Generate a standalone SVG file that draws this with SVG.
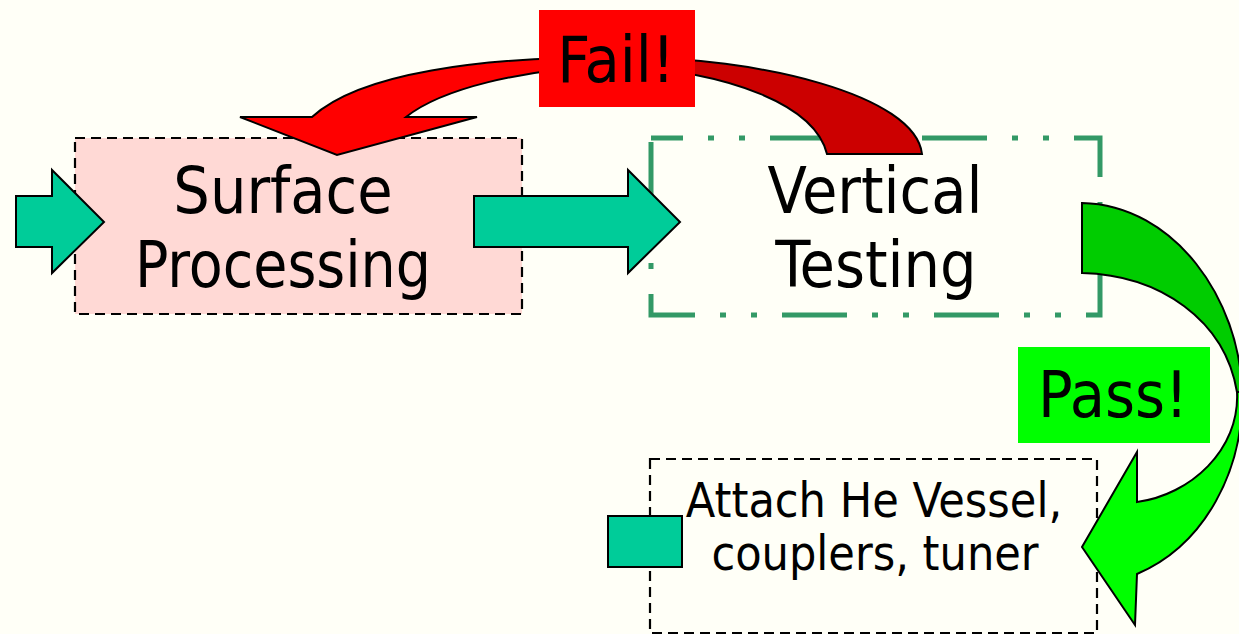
<svg xmlns="http://www.w3.org/2000/svg" width="1239" height="634" viewBox="0 0 1239 634">
  <defs>
    <style>
      .label { font-family: "DejaVu Sans Condensed", "DejaVu Sans", sans-serif; fill: #000; text-anchor: middle; }
      .big { font-size: 64px; }
      .small { font-size: 48px; }
      .dash-box { stroke: #000; stroke-width: 2.2; stroke-dasharray: 10 6; }
      .block { fill: #00CC99; stroke: #000; stroke-width: 2; stroke-linejoin: miter; }
      .curve { stroke: #000; stroke-width: 2; stroke-linejoin: miter; }
    </style>
  </defs>

  <!-- page background -->
  <rect x="0" y="0" width="1239" height="634" fill="#FFFFF7"/>

  <!-- process steps -->
  <g id="node-surface">
    <rect class="dash-box" x="75" y="138" width="447" height="176" fill="#FFD9D5"/>
    <text class="label big" x="283" y="213">Surface</text>
    <text class="label big" x="283" y="287" textLength="296" lengthAdjust="spacingAndGlyphs">Processing</text>
  </g>

  <g id="node-vertical">
    <path d="M651,138 H1100 V315 H651 Z" fill="none" stroke="#339966" stroke-width="5"
          stroke-dasharray="65 25 6 25 6 25" stroke-dashoffset="33" stroke-linecap="butt"/>
    <text class="label big" x="875" y="213">Vertical</text>
    <text class="label big" x="876" y="287">Testing</text>
  </g>

  <g id="node-attach">
    <rect class="dash-box" x="650" y="459" width="447" height="174" fill="none"/>
    <text class="label small" x="874" y="517">Attach He Vessel,</text>
    <text class="label small" x="875" y="570">couplers, tuner</text>
  </g>

  <!-- flow arrows -->
  <g id="connectors">
    <!-- entry arrow -->
    <path class="block" d="M16,196 H52 V170 L104,222 L52,273 V247 H16 Z"/>
    <!-- surface processing to vertical testing -->
    <path class="block" d="M474,196 H628 V170 L680,222 L628,273 V247 H474 Z"/>
    <!-- onward to assembly -->
    <rect class="block" x="608" y="516" width="74" height="51"/>

    <!-- fail loop: rear part (darker) -->
    <path class="curve" fill="#CC0000"
          d="M620,57 C760,57 915,95 922,154 L827,154 C815,105 730,72 620,66 Z"/>
    <!-- fail loop: front part with head -->
    <path class="curve" fill="#FF0000"
          d="M620,57 C480,57 360,73 312,117 L240,117 L337,155 L477,117 L406,117 C440,90 520,68 620,66 Z"/>

    <!-- pass arrow: rear part (darker) -->
    <path class="curve" fill="#00CC00"
          d="M1082,203 C1175,205 1240,300 1242,392 L1237,392 C1225,320 1160,275 1082,273 Z"/>
    <!-- pass arrow: front part with head -->
    <path class="curve" fill="#00FF00"
          d="M1242,392 C1244,470 1205,545 1137,574 L1135,625 L1082,547 L1137,452 L1137,502 C1190,495 1240,450 1237,392 Z"/>
  </g>

  <!-- outcome labels -->
  <g id="label-fail">
    <rect x="539" y="10" width="156" height="97" fill="#FF0000"/>
    <text class="label big" x="616" y="82">Fail!</text>
  </g>
  <g id="label-pass">
    <rect x="1018" y="347" width="192" height="96" fill="#00FF00"/>
    <text class="label big" x="1113" y="417">Pass!</text>
  </g>
</svg>
